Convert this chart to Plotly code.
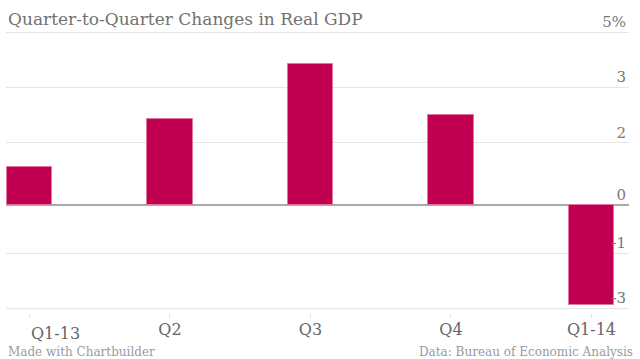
import plotly.graph_objects as go

categories = ["Q1-13", "Q2", "Q3", "Q4", "Q1-14"]
gdp_change = [1.1, 2.5, 4.1, 2.6, -2.9]
y_tickvals = [-3, -1.4, 0, 1.8, 3.4, 5]
y_ticktext = ["-3", "-1", "0", "2", "3", "5%"]

FONT = "DejaVu Serif"
BAR = "#c20051"

xpos = list(range(len(categories)))

fig = go.Figure()
fig.add_trace(go.Bar(
    x=xpos, y=gdp_change, width=0.324,
    marker=dict(color=BAR, line=dict(color="#e0779f", width=1)),
    hoverinfo="skip",
))

W, H = 640, 359
ml, mr, mt, mb = 6, 11, 29, 41
plot_h = H - mt - mb
ydom0 = (318 - 311.9) / plot_h

fig.update_layout(
    width=W, height=H,
    margin=dict(l=ml, r=mr, t=mt, b=mb, pad=0),
    plot_bgcolor="white", paper_bgcolor="white",
    showlegend=False,
    bargap=0,
    xaxis=dict(
        range=[-0.167, 4.267],
        tickvals=xpos,
        ticktext=[""] + categories[1:],
        ticks="inside", ticklen=4, tickcolor="#e2e2e2", tickwidth=1,
        showgrid=False, zeroline=False, showline=False,
        anchor="free", position=0,
        tickfont=dict(family=FONT, size=16, color="#666666"),
    ),
    yaxis=dict(
        domain=[ydom0, 1],
        range=[-3.1, 5.1],
        side="right",
        tickvals=y_tickvals, ticktext=y_ticktext,
        ticklabelposition="inside top",
        ticklabeloverflow="allow",
        ticks="", showgrid=True, gridcolor="#e6e6e6", gridwidth=1,
        zeroline=True, zerolinecolor="#a9a9a9", zerolinewidth=2,
        showline=False,
        tickfont=dict(family=FONT, size=15, color="#777777"),
    ),
)

fig.add_annotation(
    text=categories[0], x=0, xref="x", xanchor="left",
    y=0, yref="paper", yanchor="top", yshift=-4, showarrow=False,
    font=dict(family=FONT, size=16, color="#666666"),
)
fig.add_annotation(
    text="Quarter-to-Quarter Changes in Real GDP",
    x=0, xref="paper", xanchor="left",
    y=1, yref="paper", yanchor="bottom", yshift=-2, showarrow=False,
    font=dict(family=FONT, size=17, color="#727272"),
)
fig.add_annotation(
    text="Made with Chartbuilder",
    x=0, xref="paper", xanchor="left",
    y=0, yref="paper", yanchor="middle", yshift=-34, showarrow=False,
    font=dict(family=FONT, size=12, color="#9a9a9a"),
)
fig.add_annotation(
    text="Data: Bureau of Economic Analysis",
    x=1, xref="paper", xanchor="right", xshift=6,
    y=0, yref="paper", yanchor="middle", yshift=-34, showarrow=False,
    font=dict(family=FONT, size=12, color="#9a9a9a"),
)

fig.write_html("out.html", config={"displayModeBar": False},
               post_script="document.body.style.margin='0';")
